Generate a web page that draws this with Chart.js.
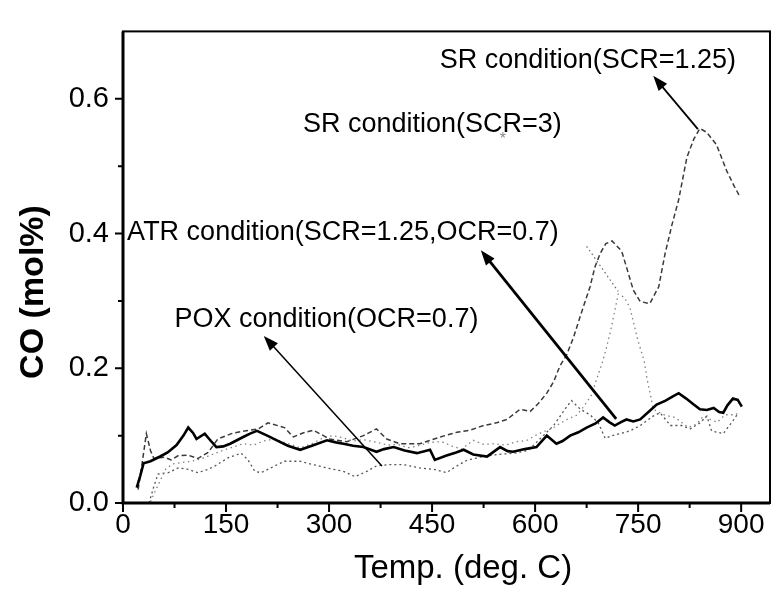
<!DOCTYPE html>
<html>
<head>
<meta charset="utf-8">
<script src="https://cdn.jsdelivr.net/npm/chart.js@4.4.0/dist/chart.umd.min.js"></script>
<style>
  body { margin: 0; background: #fff; }
  canvas { display: block; }
</style>
</head>
<body>
<canvas id="chart" width="773" height="593"></canvas>
<script>
// CO (mol%) vs temperature: [temp, CO]
const atr = [[20,0.023],[25,0.04],[30,0.059],[40,0.062],[54,0.069],[65,0.075],[78,0.086],[88,0.1],[95,0.112],[102,0.104],
  [107,0.095],[119,0.103],[128,0.092],[136,0.083],[146,0.084],[156,0.088],[175,0.098],[185,0.103],[195,0.107],[210,0.1],
  [224,0.093],[240,0.085],[258,0.079],[275,0.085],[297,0.093],[310,0.09],[321,0.088],[335,0.085],[350,0.083],[369,0.076],
  [380,0.08],[394,0.083],[410,0.078],[428,0.074],[447,0.079],[454,0.064],[470,0.07],[485,0.075],[496,0.079],[510,0.072],
  [530,0.069],[549,0.083],[560,0.077],[568,0.076],[585,0.08],[602,0.083],[617,0.1],[631,0.088],[640,0.092],[651,0.1],
  [663,0.105],[675,0.112],[688,0.118],[699,0.127],[708,0.12],[716,0.115],[725,0.12],[733,0.124],[743,0.121],[753,0.124],
  [765,0.135],[777,0.146],[790,0.152],[800,0.158],[809,0.163],[820,0.155],[830,0.147],[840,0.139],[850,0.138],[860,0.141],
  [868,0.135],[874,0.134],[880,0.145],[888,0.155],[895,0.153],[901,0.143]];

const sr125 = [[22,0.02],[28,0.06],[34,0.103],[40,0.078],[45,0.066],[60,0.068],[70,0.064],[80,0.07],[95,0.071],[109,0.066],
  [124,0.075],[138,0.095],[158,0.103],[177,0.107],[197,0.11],[211,0.119],[235,0.112],[248,0.098],[262,0.104],[277,0.108],
  [301,0.095],[326,0.091],[350,0.1],[369,0.11],[384,0.095],[403,0.088],[418,0.088],[432,0.088],[447,0.093],[462,0.098],
  [486,0.105],[505,0.108],[525,0.115],[544,0.119],[559,0.124],[578,0.139],[593,0.136],[605,0.148],[617,0.163],[627,0.18],
  [636,0.203],[646,0.22],[656,0.246],[666,0.278],[680,0.321],[687,0.35],[695,0.371],[703,0.385],[712,0.389],[726,0.374],
  [736,0.34],[743,0.316],[753,0.299],[767,0.296],[780,0.321],[789,0.369],[799,0.412],[809,0.45],[821,0.513],[831,0.54],
  [840,0.556],[850,0.55],[864,0.532],[879,0.493],[890,0.47],[898,0.455]];

const sr3 = [[40,0.002],[48,0.02],[55,0.035],[62,0.05],[72,0.058],[85,0.06],[100,0.062],[115,0.066],[130,0.072],[145,0.078],
  [160,0.083],[175,0.088],[190,0.086],[205,0.092],[220,0.095],[235,0.09],[258,0.082],[275,0.088],[290,0.096],[305,0.1],
  [320,0.097],[335,0.092],[350,0.094],[370,0.09],[385,0.086],[400,0.087],[415,0.082],[430,0.085],[447,0.09],[464,0.091],
  [480,0.084],[493,0.08],[510,0.093],[525,0.087],[540,0.088],[557,0.086],[573,0.091],[588,0.093],[600,0.1],[612,0.106],
  [624,0.11],[636,0.118],[648,0.125],[660,0.13],[670,0.142],[682,0.16],[690,0.185],[697,0.206],[703,0.227],[710,0.256],
  [716,0.285],[721,0.31],[730,0.305],[738,0.29],[745,0.261],[749,0.244],[759,0.21],[763,0.184],[767,0.165],[772,0.14],
  [777,0.136],[790,0.13],[804,0.127],[823,0.112],[835,0.117],[845,0.129],[855,0.124],[865,0.12],[877,0.131],[891,0.131],
  [897,0.134]];

const pox = [[38,0.0],[45,0.025],[51,0.043],[66,0.045],[80,0.052],[95,0.05],[109,0.045],[124,0.05],[134,0.055],[153,0.067],
  [172,0.074],[182,0.064],[192,0.047],[201,0.045],[221,0.055],[235,0.062],[258,0.062],[277,0.057],[297,0.052],[321,0.047],
  [338,0.039],[355,0.047],[369,0.055],[389,0.057],[408,0.057],[432,0.052],[452,0.05],[471,0.045],[486,0.055],[500,0.063],
  [520,0.068],[545,0.072],[570,0.074],[590,0.078],[607,0.095],[627,0.115],[644,0.14],[653,0.152],[666,0.139],[680,0.131],
  [692,0.119],[702,0.096],[712,0.1],[724,0.103],[738,0.107],[753,0.115],[772,0.129],[782,0.134],[797,0.115],[813,0.115],
  [826,0.11],[840,0.119],[850,0.129],[857,0.107],[874,0.103],[879,0.11],[888,0.122],[896,0.134]];

const xTicks = [0, 150, 300, 450, 600, 750, 900];
const xMinor = [75, 225, 375, 525, 675, 825];
const yTicks = [0, 0.2, 0.4, 0.6];
const yMinor = [0.1, 0.3, 0.5];

// annotation labels and arrows, in data units
const notes = [
  { text: "SR condition(SCR=1.25)", x: 461, y: 0.657 },
  { text: "SR condition(SCR=3)", x: 262, y: 0.561 },
  { text: "ATR condition(SCR=1.25,OCR=0.7)", x: 6, y: 0.402 },
  { text: "POX condition(OCR=0.7)", x: 75, y: 0.273 },
];
const arrows = [
  { from: [837, 0.555], to: [772, 0.634], w: 1.8 },
  { from: [718, 0.125], to: [521, 0.375], w: 2.8 },
  { from: [377, 0.055], to: [205, 0.248], w: 1.5 },
];

const FONT = '"Liberation Sans", Arial, sans-serif';
const pts = a => a.map(p => ({ x: p[0], y: p[1] }));

function arrow(ctx, x1, y1, x2, y2, w) {
  const ang = Math.atan2(y2 - y1, x2 - x1);
  const len = 15, half = 5.5;
  ctx.strokeStyle = "#000";
  ctx.lineWidth = w;
  ctx.beginPath();
  ctx.moveTo(x1, y1);
  ctx.lineTo(x2 - Math.cos(ang) * len * 0.8, y2 - Math.sin(ang) * len * 0.8);
  ctx.stroke();
  ctx.fillStyle = "#000";
  ctx.beginPath();
  ctx.moveTo(x2, y2);
  ctx.lineTo(x2 - Math.cos(ang) * len - Math.sin(ang) * half, y2 - Math.sin(ang) * len + Math.cos(ang) * half);
  ctx.lineTo(x2 - Math.cos(ang) * len + Math.sin(ang) * half, y2 - Math.sin(ang) * len - Math.cos(ang) * half);
  ctx.closePath();
  ctx.fill();
}

const decor = {
  id: "decor",
  afterDraw(chart) {
    const ctx = chart.ctx;
    const a = chart.chartArea;
    const xs = chart.scales.x, ys = chart.scales.y;
    ctx.save();

    // frame
    ctx.strokeStyle = "#000";
    ctx.lineWidth = 2;
    ctx.strokeRect(a.left, a.top, a.right - a.left, a.bottom - a.top);
    ctx.lineWidth = 3;
    ctx.beginPath();
    ctx.moveTo(a.left, a.top);
    ctx.lineTo(a.left, a.bottom);
    ctx.lineTo(a.right, a.bottom);
    ctx.stroke();

    // tick marks, outside
    ctx.lineWidth = 2;
    ctx.beginPath();
    xTicks.forEach(v => { const p = xs.getPixelForValue(v); ctx.moveTo(p, a.bottom); ctx.lineTo(p, a.bottom + 9); });
    xMinor.forEach(v => { const p = xs.getPixelForValue(v); ctx.moveTo(p, a.bottom); ctx.lineTo(p, a.bottom + 5); });
    yTicks.forEach(v => { const p = ys.getPixelForValue(v); ctx.moveTo(a.left, p); ctx.lineTo(a.left - 8, p); });
    yMinor.forEach(v => { const p = ys.getPixelForValue(v); ctx.moveTo(a.left, p); ctx.lineTo(a.left - 5, p); });
    ctx.stroke();

    // faint arrow toward the SCR=3 label
    ctx.setLineDash([1.5, 3]);
    ctx.strokeStyle = "#666";
    ctx.lineWidth = 1.2;
    ctx.beginPath();
    ctx.moveTo(xs.getPixelForValue(675), ys.getPixelForValue(0.381));
    ctx.lineTo(xs.getPixelForValue(721), ys.getPixelForValue(0.314));
    ctx.stroke();
    ctx.setLineDash([]);
    ctx.fillStyle = "#888";
    ctx.font = "16px " + FONT;
    ctx.textAlign = "center";
    ctx.textBaseline = "middle";
    ctx.fillText("*", xs.getPixelForValue(553), ys.getPixelForValue(0.54));

    arrows.forEach(r => arrow(ctx,
      xs.getPixelForValue(r.from[0]), ys.getPixelForValue(r.from[1]),
      xs.getPixelForValue(r.to[0]), ys.getPixelForValue(r.to[1]), r.w));

    ctx.fillStyle = "#000";
    ctx.font = "27px " + FONT;
    ctx.textAlign = "left";
    notes.forEach(n => ctx.fillText(n.text, xs.getPixelForValue(n.x), ys.getPixelForValue(n.y)));

    // axis titles
    ctx.textAlign = "center";
    ctx.font = "33px " + FONT;
    ctx.fillText("Temp. (deg. C)", 463, 569);
    ctx.save();
    ctx.translate(34, 292);
    ctx.rotate(-Math.PI / 2);
    ctx.font = "bold 34px " + FONT;
    ctx.fillText("CO (mol%)", 0, 0);
    ctx.restore();

    ctx.restore();
  }
};

new Chart(document.getElementById("chart"), {
  type: "line",
  data: {
    datasets: [
      { label: "ATR", data: pts(atr), borderColor: "#000", borderWidth: 2.6 },
      { label: "SR SCR=1.25", data: pts(sr125), borderColor: "#3a3a3a", borderWidth: 1.5, borderDash: [5, 3] },
      { label: "SR SCR=3", data: pts(sr3), borderColor: "#808080", borderWidth: 1.3, borderDash: [1.5, 3.5] },
      { label: "POX", data: pts(pox), borderColor: "#555", borderWidth: 1.3, borderDash: [2, 3] },
    ],
  },
  options: {
    responsive: false,
    animation: false,
    events: [],
    layout: { padding: { top: 15, right: 3, left: 0, bottom: 0 } },
    elements: { point: { radius: 0 }, line: { tension: 0 } },
    scales: {
      x: {
        type: "linear",
        min: 0,
        max: 942,
        afterBuildTicks: s => { s.ticks = xTicks.map(v => ({ value: v })); },
        afterFit: s => { s.height = 90; },
        grid: { display: false, drawTicks: false },
        border: { display: false },
        ticks: { color: "#000", padding: 5, maxRotation: 0, font: { family: FONT, size: 28 } },
      },
      y: {
        min: 0,
        max: 0.7,
        afterBuildTicks: s => { s.ticks = yTicks.map(v => ({ value: v })); },
        afterFit: s => { s.width = 123; },
        grid: { display: false, drawTicks: false },
        border: { display: false },
        ticks: { color: "#000", padding: 14, font: { family: FONT, size: 29 }, callback: v => v.toFixed(1) },
      },
    },
    plugins: { legend: { display: false }, tooltip: { enabled: false } },
  },
  plugins: [decor],
});
</script>
</body>
</html>
